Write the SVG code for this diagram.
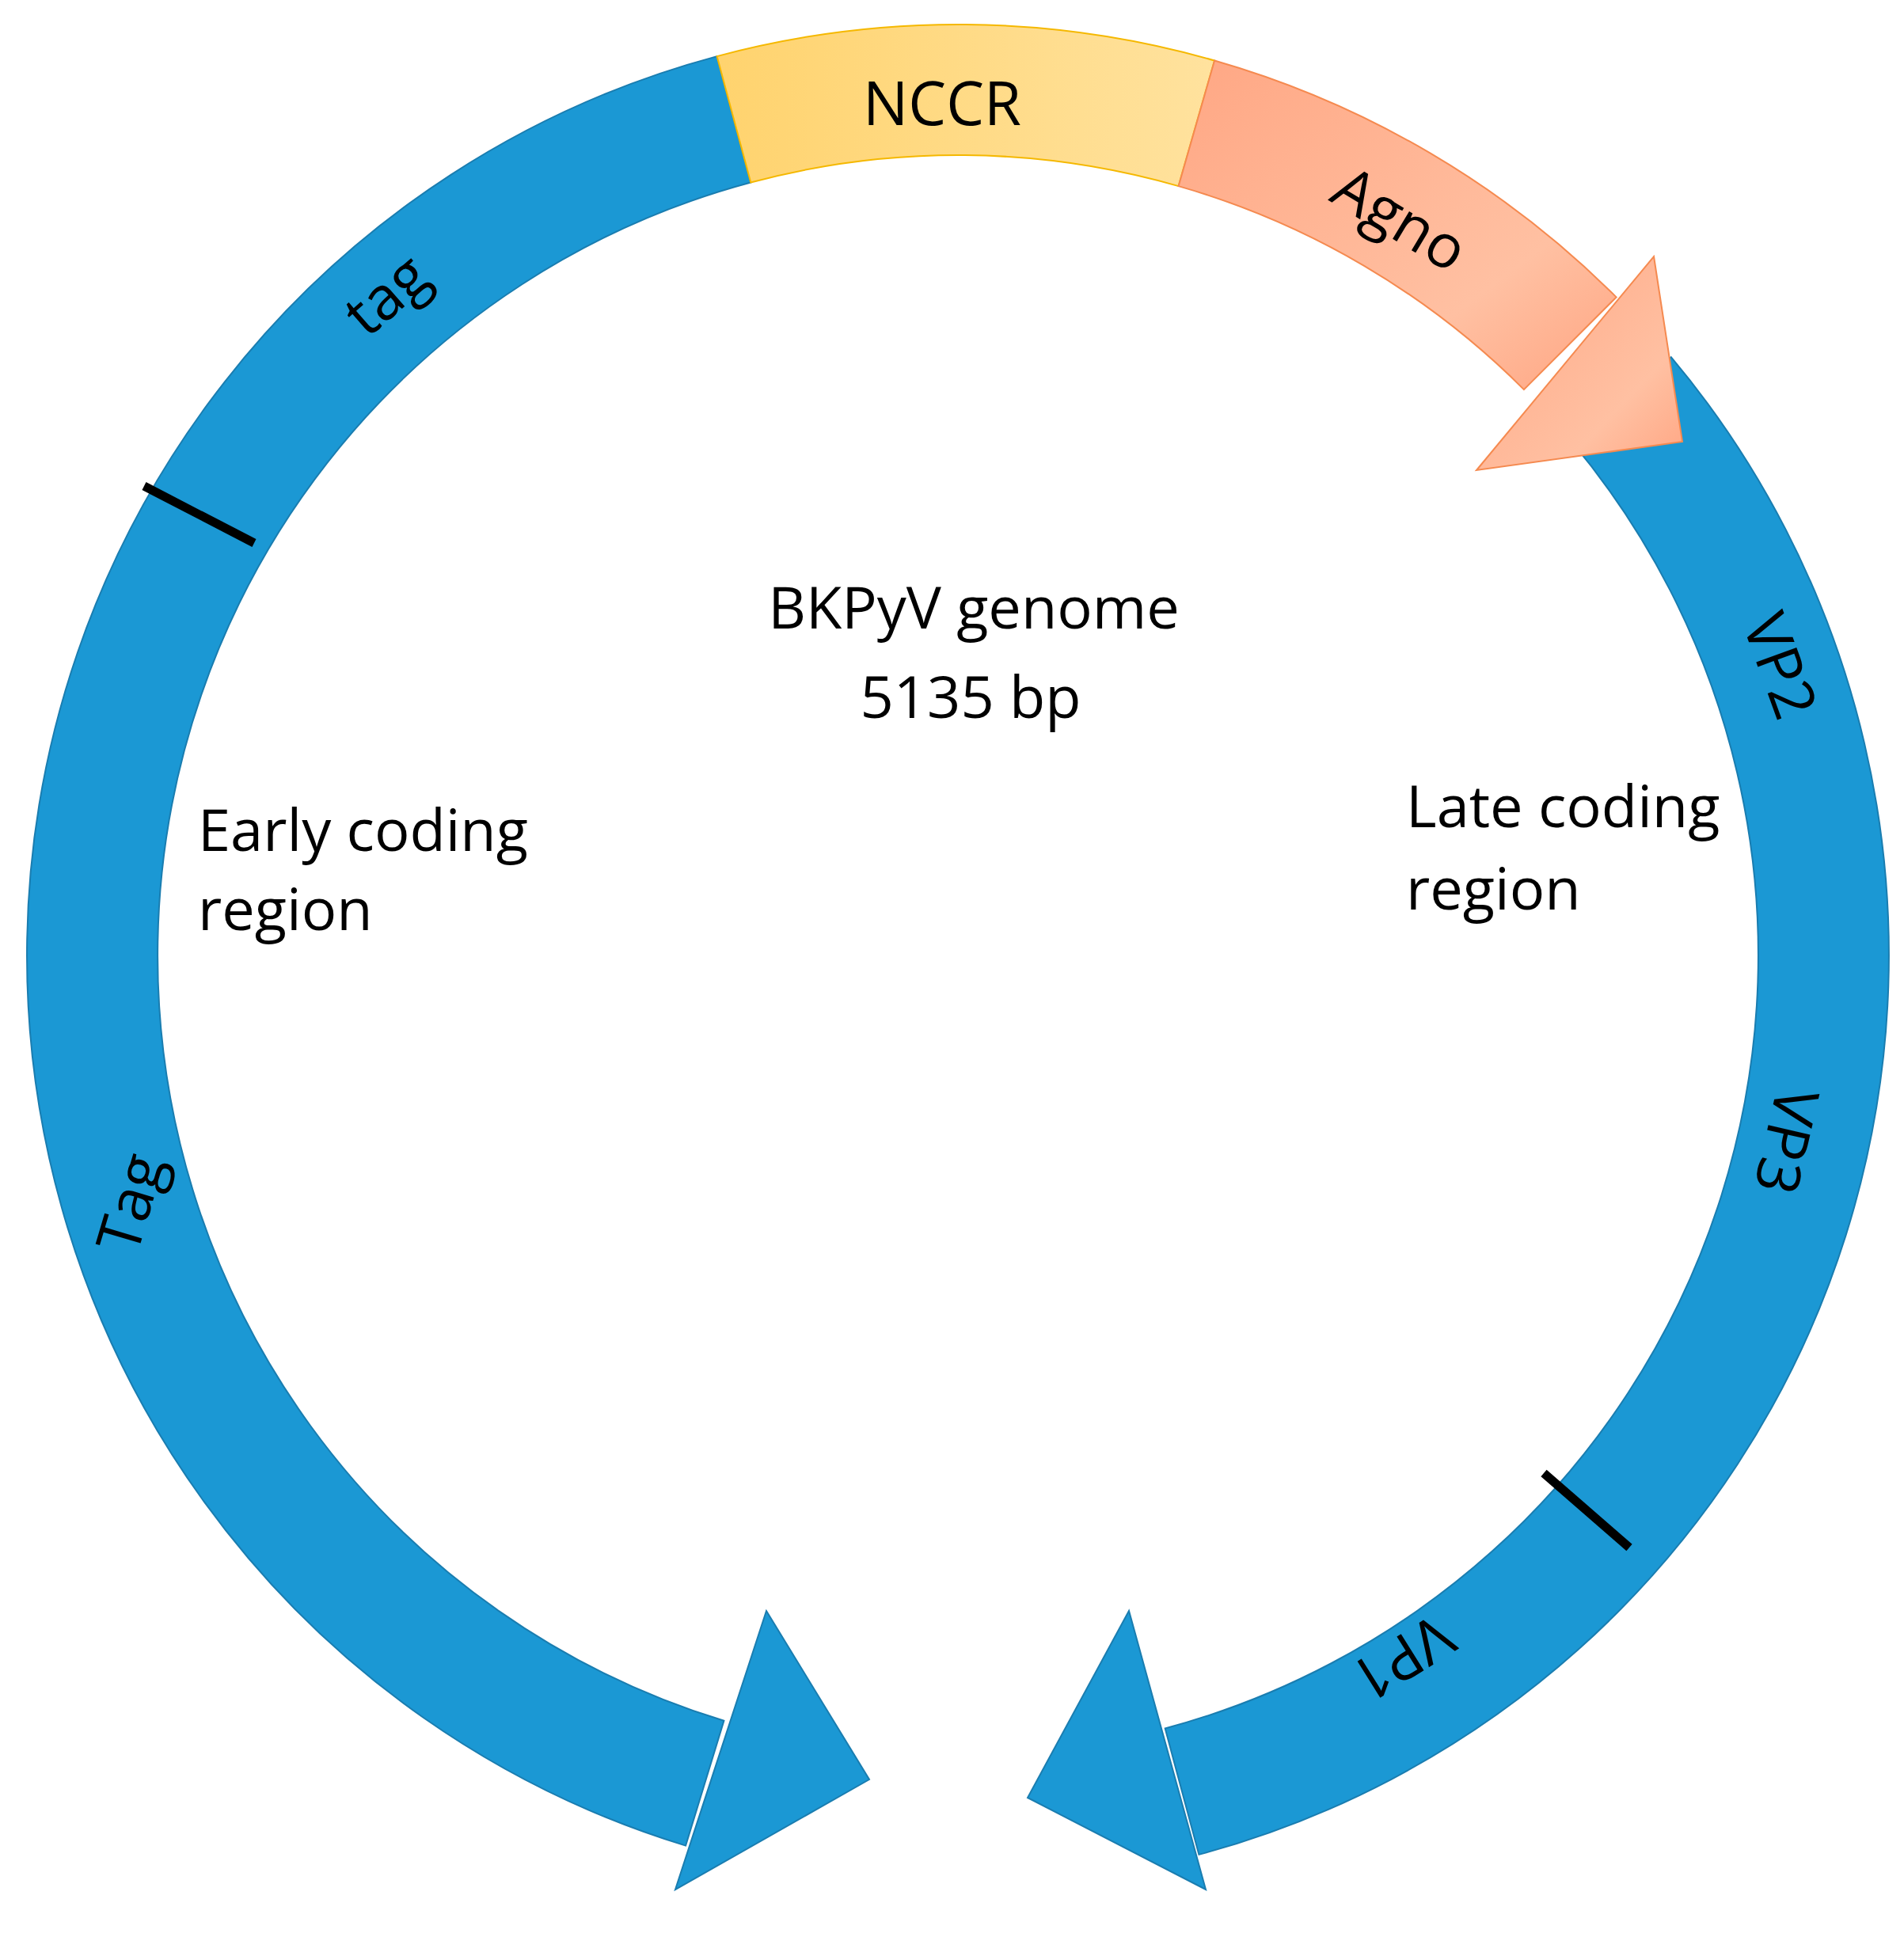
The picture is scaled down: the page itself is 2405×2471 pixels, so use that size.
<svg xmlns="http://www.w3.org/2000/svg" width="2405" height="2471" viewBox="0 0 2405 2471">
<defs>
<linearGradient id="gN" x1="0" y1="0" x2="1" y2="0"><stop offset="0" stop-color="#FFD36E"/><stop offset="1" stop-color="#FFE29E"/></linearGradient>
<linearGradient id="gA" x1="0" y1="0" x2="1" y2="1"><stop offset="0" stop-color="#FFA784"/><stop offset="0.7" stop-color="#FFC0A2"/><stop offset="1" stop-color="#FFA582"/></linearGradient>
</defs>
<style>
.blue{fill:#1B98D4;stroke:#1A7DB0;stroke-width:2}
.lbl{font-family:"Open Sans","Liberation Sans",sans-serif;font-size:76px;fill:#000;text-anchor:middle;dominant-baseline:central}
.txt{font-family:"Open Sans","Liberation Sans",sans-serif;font-size:74px;fill:#000}
.tick{stroke:#000;stroke-width:11}
</style>
<rect width="2405" height="2471" fill="#fff"/>
<g id="early">
<path class="blue" d="M905.6,71.1 A1176,1176 0 0 0 866.1,2331.6 L914.4,2173.8 A1011,1011 0 0 1 948.3,230.5 Z"/>
<polygon class="blue" points="968,2035 1098,2248 853,2387"/>
</g>
<g id="late">
<path class="blue" d="M2110.8,451.1 A1176,1176 0 0 1 1514.4,2342.9 L1471.7,2183.5 A1011,1011 0 0 0 1984.4,557.1 Z"/>
<polygon class="blue" points="1426,2035 1298,2271 1523,2387"/>
</g>
<g id="nccr">
<path d="M905.6,71.1 A1176,1176 0 0 1 1534.1,76.5 L1488.6,235.1 A1011,1011 0 0 0 948.3,230.5 Z" fill="url(#gN)" stroke="#F5B800" stroke-width="2"/>
<text x="1190" y="128" class="lbl" font-size="80">NCCR</text>
</g>
<g id="agno">
<path d="M1534.1,76.5 A1176,1176 0 0 1 2041.6,375.4 L1924.9,492.1 A1011,1011 0 0 0 1488.6,235.1 Z" fill="url(#gA)" stroke="#F58A50" stroke-width="2"/>
<polygon points="2089,324 2125,558 1865,594" fill="url(#gA)" stroke="#F58A50" stroke-width="2"/>
<text class="lbl" transform="translate(1770,274) rotate(31)">Agno</text>
</g>
<g id="ticks">
<line class="tick" x1="182" y1="614" x2="321" y2="686"/>
<line class="tick" x1="1950" y1="1861" x2="2058" y2="1955"/>
</g>
<g id="labels">
<text class="lbl" transform="translate(486,370) rotate(-41)">tag</text>
<text class="lbl" transform="translate(162,1519) rotate(-73.5)">Tag</text>
<text class="lbl" transform="translate(2251,840) rotate(70)">VP2</text>
<text class="lbl" transform="translate(2259,1442) rotate(103)">VP3</text>
<text class="lbl" transform="translate(1773,2097) rotate(148)">VP1</text>
<text class="txt" x="1230" y="794" text-anchor="middle" font-size="84">BKPyV genome</text>
<text class="txt" x="1226" y="907" text-anchor="middle" font-size="84">5135 bp</text>
<text class="txt" x="250" y="1075">Early coding</text>
<text class="txt" x="250" y="1175">region</text>
<text class="txt" x="1776" y="1045">Late coding</text>
<text class="txt" x="1776" y="1149">region</text>
</g>
</svg>
